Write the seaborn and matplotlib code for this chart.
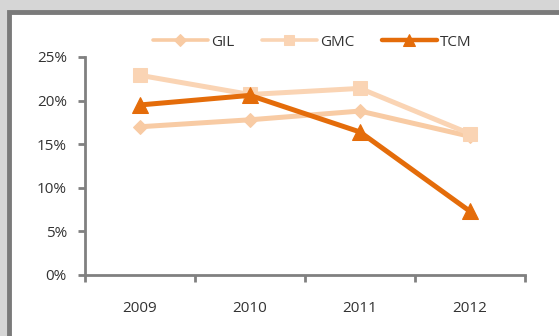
import matplotlib
matplotlib.use("Agg")
import matplotlib.pyplot as plt
from matplotlib.patches import Rectangle
from matplotlib.ticker import FuncFormatter, FixedLocator
import seaborn as sns
import pandas as pd

years = ["2009", "2010", "2011", "2012"]
series_names = ["GIL", "GMC", "TCM"]
gil = [0.170, 0.178, 0.188, 0.159]
gmc = [0.229, 0.207, 0.214, 0.162]
tcm = [0.195, 0.206, 0.164, 0.073]

df = pd.DataFrame({
    "year": years * 3,
    "value": gil + gmc + tcm,
    "series": [s for s in series_names for _ in years],
})

sns.set_style("white")
plt.rcParams["font.family"] = ["Open Sans", "DejaVu Sans"]

W, H = 559, 336
fig = plt.figure(figsize=(W / 100, H / 100), dpi=100)
fig.patch.set_facecolor("#d6d6d6")
fig.patches.append(Rectangle((9 / W, -0.1), 1.0, 1.1 - 12 / H, transform=fig.transFigure,
                             facecolor="white", edgecolor="#7a7a7a", linewidth=3.5,
                             zorder=-5, clip_on=False))
ax = fig.add_axes([85 / W, (H - 275) / H, 440 / W, 218 / H])
ax.set_facecolor("none")
ax.set_zorder(5)

palette = {"GIL": "#f8cba4", "GMC": "#fad4b4", "TCM": "#e46c0a"}
markers = {"GIL": "D", "GMC": "s", "TCM": "^"}
sizes = {"GIL": 7, "GMC": 10, "TCM": 11}
for name in series_names:
    sub = df[df.series == name]
    sns.lineplot(data=sub, x="year", y="value", color=palette[name], marker=markers[name],
                 markersize=sizes[name], markeredgecolor=palette[name], linewidth=3.6,
                 label=name, ax=ax, sort=False, zorder=3 if name == "TCM" else 2)

ax.set_xlim(-0.5, 3.5)
ax.set_ylim(0, 0.25)
ax.set_xlabel("")
ax.set_ylabel("")
ax.yaxis.set_major_locator(FixedLocator([0, 0.05, 0.10, 0.15, 0.20, 0.25]))
ax.yaxis.set_major_formatter(FuncFormatter(lambda v, p: f"{v*100:.0f}%"))
ax.xaxis.set_major_locator(FixedLocator([-0.5, 0.5, 1.5, 2.5, 3.5]))
ax.xaxis.set_minor_locator(FixedLocator([0, 1, 2, 3]))
ax.set_xticklabels([], minor=False)
ax.set_xticklabels(years, minor=True)
ax.tick_params(axis="x", which="major", bottom=True, direction="out", length=5, width=2,
               color="#808080")
ax.tick_params(axis="x", which="minor", bottom=True, length=0, pad=19, labelsize=11,
               labelcolor="#333333")
ax.tick_params(axis="y", left=True, direction="out", length=5, width=2, color="#808080",
               pad=8, labelsize=11, labelcolor="#333333")

for s in ["top", "right"]:
    ax.spines[s].set_visible(False)
for s in ["left", "bottom"]:
    ax.spines[s].set_color("#808080")
    ax.spines[s].set_linewidth(2)

leg = ax.legend(loc="lower center", bbox_to_anchor=(0.516, 0.97), ncol=3, frameon=False,
                fontsize=11, handlelength=3.6, handletextpad=0.2, columnspacing=1.8,
                labelcolor="#333333")
leg_sizes = {"GIL": 6, "GMC": 7, "TCM": 9}
leg_widths = {"GIL": 2.6, "GMC": 2.6, "TCM": 3.2}
for line, txt in zip(leg.get_lines(), leg.get_texts()):
    name = txt.get_text()
    line.set_markersize(leg_sizes[name])
    line.set_linewidth(leg_widths[name])

fig.savefig("out.png", dpi=100, facecolor=fig.get_facecolor())
